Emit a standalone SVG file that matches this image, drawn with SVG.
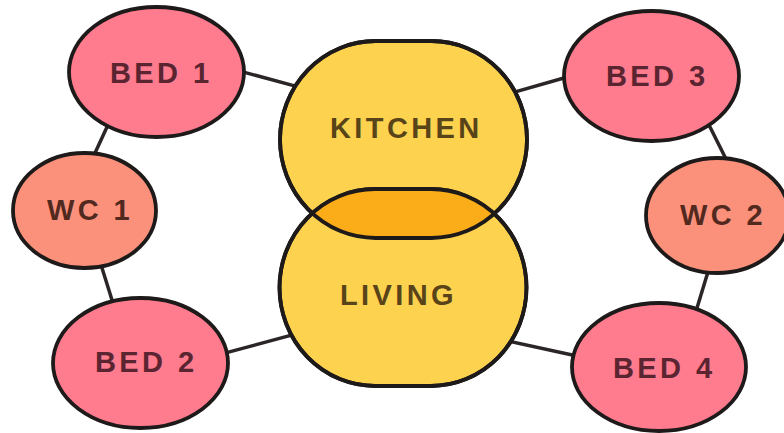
<svg xmlns="http://www.w3.org/2000/svg" width="784" height="433" viewBox="0 0 784 433">
  <style>
    .edge { stroke: #2b2527; stroke-width: 3.5; stroke-linecap: butt; fill: none; }
    .outline { stroke: #1e1a1a; stroke-width: 3.8; }
    .bed { fill: #ff7b8e; }
    .wc { fill: #fc917b; }
    .core { fill: #fdd24f; }
    .label { font-family: "Liberation Sans", Arial, Helvetica, sans-serif; font-weight: bold; font-size: 29px; letter-spacing: 3.4px; }
    .label-core { fill: #584418; }
    .label-bed { fill: #5a2431; }
    .label-wc { fill: #52291f; }
  </style>
  <defs>
    <path id="kitchen-shape" d="M375.5,41 H431.5 A95.5,98.5 0 0 1 527,139.5 A95.5,98.5 0 0 1 431.5,238 H375.5 A95.5,98.5 0 0 1 280,139.5 A95.5,98.5 0 0 1 375.5,41 Z"/>
    <path id="living-shape" d="M375,189 H431 A95.5,98.5 0 0 1 526.5,287.5 A95.5,98.5 0 0 1 431,386 H375 A95.5,98.5 0 0 1 279.5,287.5 A95.5,98.5 0 0 1 375,189 Z"/>
    <clipPath id="kitchen-clip">
      <use href="#kitchen-shape"/>
    </clipPath>
  </defs>

  <g id="connectors">
    <line class="edge" x1="240" y1="71.1" x2="300" y2="87.4"/>
    <line class="edge" x1="510" y1="93.4" x2="570" y2="76.3"/>
    <line class="edge" x1="110" y1="120.5" x2="92" y2="159.5"/>
    <line class="edge" x1="100" y1="261.6" x2="114" y2="306.4"/>
    <line class="edge" x1="222" y1="353.9" x2="298" y2="333.4"/>
    <line class="edge" x1="507" y1="340.7" x2="578" y2="356.3"/>
    <line class="edge" x1="707" y1="121" x2="728" y2="163"/>
    <line class="edge" x1="709" y1="268.4" x2="695" y2="314.6"/>
  </g>

  <g id="bed1">
    <ellipse class="bed outline" cx="156.5" cy="72" rx="87.5" ry="65"/>
    <text class="label label-bed" x="110" y="83">BED 1</text>
  </g>
  <g id="wc1">
    <ellipse class="wc outline" cx="84.5" cy="210.5" rx="71.5" ry="57.5"/>
    <text class="label label-wc" x="47" y="220">WC 1</text>
  </g>
  <g id="bed2">
    <ellipse class="bed outline" cx="140.5" cy="363" rx="87.5" ry="65"/>
    <text class="label label-bed" x="95" y="372">BED 2</text>
  </g>
  <g id="bed3">
    <ellipse class="bed outline" cx="651.5" cy="76" rx="87.5" ry="65"/>
    <text class="label label-bed" x="606" y="86">BED 3</text>
  </g>
  <g id="wc2">
    <ellipse class="wc outline" cx="717.5" cy="215.5" rx="71.5" ry="57.5"/>
    <text class="label label-wc" x="680" y="225">WC 2</text>
  </g>
  <g id="bed4">
    <ellipse class="bed outline" cx="659" cy="367" rx="87" ry="64"/>
    <text class="label label-bed" x="613" y="378">BED 4</text>
  </g>

  <g id="kitchen">
    <use href="#kitchen-shape" class="core outline"/>
  </g>
  <g id="living">
    <use href="#living-shape" class="core outline"/>
  </g>

  <!-- shared zone where kitchen and living meet, with both outlines on top -->
  <g id="overlap">
    <use href="#living-shape" fill="#fbad19" clip-path="url(#kitchen-clip)"/>
    <use href="#kitchen-shape" fill="none" class="outline"/>
    <use href="#living-shape" fill="none" class="outline"/>
  </g>

  <g id="labels-core">
    <text class="label label-core" x="330" y="138">KITCHEN</text>
    <text class="label label-core" x="340" y="305">LIVING</text>
  </g>
</svg>
